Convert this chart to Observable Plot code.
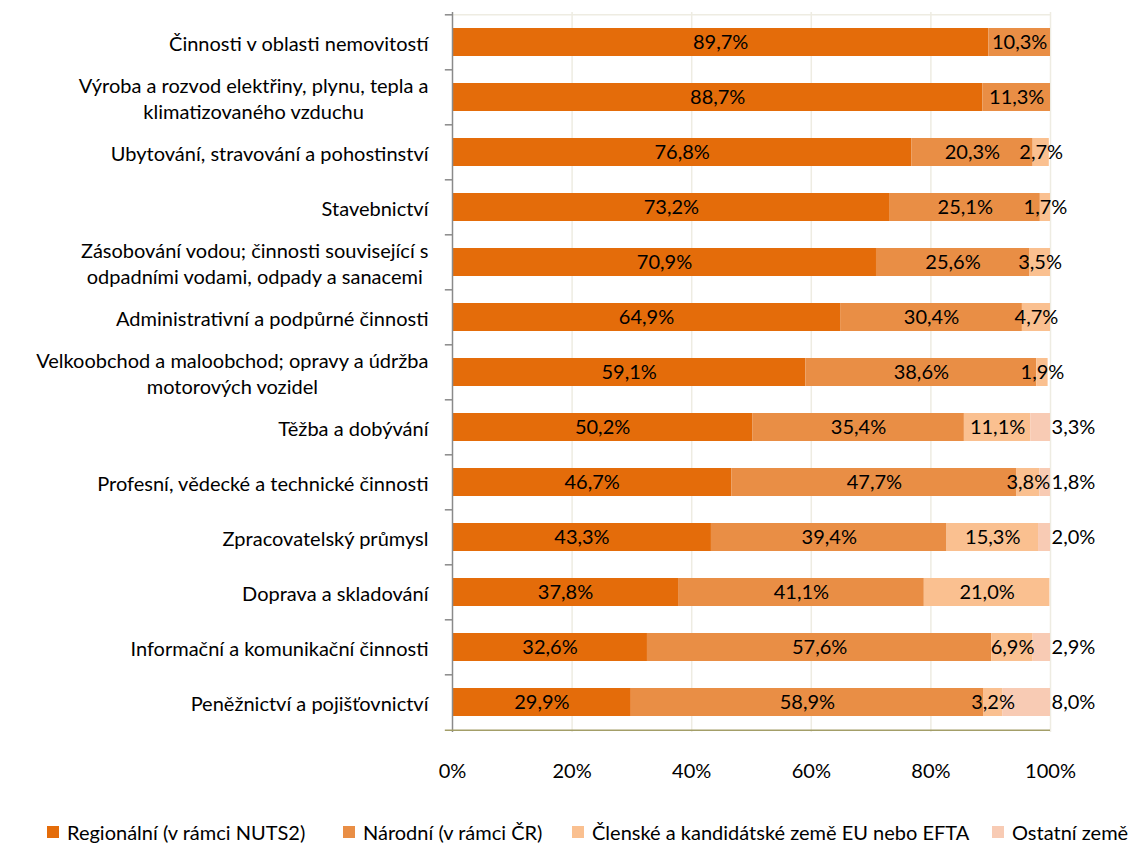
<!DOCTYPE html>
<html><head><meta charset="utf-8">
<script src="https://cdn.jsdelivr.net/npm/d3@7"></script>
<script src="https://cdn.jsdelivr.net/npm/@observablehq/plot@0.6"></script>
<style>
body{margin:0;background:#fff;font-family:Lato,sans-serif;}
#chart{position:relative;width:1135px;height:843px;overflow:hidden;background:#fff;}
#chart svg{display:block;}
.legend{position:absolute;top:815px;left:0;width:1135px;height:34px;}
.item{position:absolute;top:0;display:flex;align-items:center;height:34px;white-space:nowrap;font-size:20px;color:#000;}
.sw{width:12px;height:12px;margin-right:8px;flex:none;}
</style></head><body><div id="chart"></div>
<script>
const categories = [
  "Činnosti v oblasti nemovitostí",
  "Výroba a rozvod elektřiny, plynu, tepla a\nklimatizovaného vzduchu",
  "Ubytování, stravování a pohostinství",
  "Stavebnictví",
  "Zásobování vodou; činnosti související s\nodpadními vodami, odpady a sanacemi",
  "Administrativní a podpůrné činnosti",
  "Velkoobchod a maloobchod; opravy a údržba\nmotorových vozidel",
  "Těžba a dobývání",
  "Profesní, vědecké a technické činnosti",
  "Zpracovatelský průmysl",
  "Doprava a skladování",
  "Informační a komunikační činnosti",
  "Peněžnictví a pojišťovnictví"
];
const regional = [89.7, 88.7, 76.8, 73.2, 70.9, 64.9, 59.1, 50.2, 46.7, 43.3, 37.8, 32.6, 29.9];
const national = [10.3, 11.3, 20.3, 25.1, 25.6, 30.4, 38.6, 35.4, 47.7, 39.4, 41.1, 57.6, 58.9];
const euEfta   = [0, 0, 2.7, 1.7, 3.5, 4.7, 1.9, 11.1, 3.8, 15.3, 21.0, 6.9, 3.2];
const other    = [0, 0, 0, 0, 0, 0, 0, 3.3, 1.8, 2.0, 0, 2.9, 8.0];
const seriesNames = ["Regionální (v rámci NUTS2)", "Národní (v rámci ČR)", "Členské a kandidátské země EU nebo EFTA", "Ostatní země"];
const seriesColors = ["#E46C0A", "#E98E45", "#FAC090", "#F8CBB4"];
const xTicks = [0, 20, 40, 60, 80, 100];

const seriesValues = [regional, national, euEfta, other];
const rows = categories.flatMap((c, i) => seriesNames.map((s, k) => ({cat: c, series: s, value: seriesValues[k][i]})));
const fmt = v => v.toFixed(1).replace(".", ",") + "%";

const H = 800, MT = 12, MB = 68;
const step = (H - MT - MB) / categories.length;
const half = step / 2;
const last = seriesNames[3];

const plot = Plot.plot({
  width: 1135, height: H,
  marginLeft: 452, marginRight: 85, marginTop: MT, marginBottom: MB,
  style: {fontFamily: "Lato, sans-serif", fontSize: "20px", color: "#000", background: "#fff"},
  x: {domain: [0, 100]},
  y: {domain: categories, paddingInner: 0.5, paddingOuter: 0.25},
  color: {domain: seriesNames, range: seriesColors},
  marks: [
    Plot.gridX(xTicks.slice(1), {stroke: "#EEECE2", strokeOpacity: 1, strokeWidth: 1.5}),
    Plot.ruleY([categories[0]], {x1: 0, x2: 100, dy: -half, stroke: "#EEECE2", strokeWidth: 1.5}),
    Plot.barX(rows, Plot.stackX({x: "value", y: "cat", fill: "series"})),
    Plot.text(rows, Plot.stackX({x: "value", y: "cat", z: "series",
      text: d => d.value > 0 && d.series !== last ? fmt(d.value) : "", fill: "#000"})),
    Plot.text(rows, Plot.stackX2({x: "value", y: "cat", z: "series",
      text: d => d.value > 0 && d.series === last ? fmt(d.value) : "", dx: 23, fill: "#000"})),
    Plot.ruleX([0], {stroke: "#8A8A8A", strokeWidth: 1.5}),
    Plot.ruleY(categories, {x1: -1.2, x2: 0, dy: -half, stroke: "#8A8A8A", strokeWidth: 1.5}),
    Plot.ruleY([categories[categories.length - 1]], {x1: -1.2, x2: 100, dy: half, stroke: "#A39E68", strokeWidth: 1.5}),
    Plot.tickX(xTicks, {x: d => d, y: categories[categories.length - 1], dy: half + 3, stroke: "#A39E68", strokeWidth: 1.5}),
    Plot.axisX(xTicks, {tickSize: 0, tickPadding: 31, tickFormat: d => d + "%", label: null, fill: "#000"}),
    Plot.axisY({tickSize: 0, tickPadding: 24, label: null, lineHeight: 1.3, fill: "#000"})
  ]
});

const chart = document.getElementById("chart");
chart.appendChild(plot);

// center the lines of multi-line category labels relative to each other
plot.querySelectorAll('g[aria-label="y-axis tick label"] text').forEach(t => {
  const spans = t.querySelectorAll("tspan");
  if (spans.length > 1) {
    const lens = Array.from(spans, s => s.getComputedTextLength());
    const mx = Math.max(...lens);
    spans.forEach((s, i) => s.setAttribute("x", -(mx - lens[i]) / 2));
  }
});

// legend
const legendX = [47, 343, 572, 992];
const legend = document.createElement("div");
legend.className = "legend";
seriesNames.forEach((n, i) => {
  const it = document.createElement("div");
  it.className = "item";
  it.style.left = legendX[i] + "px";
  const sw = document.createElement("span");
  sw.className = "sw";
  sw.style.background = seriesColors[i];
  const tx = document.createElement("span");
  tx.textContent = n;
  it.appendChild(sw); it.appendChild(tx);
  legend.appendChild(it);
});
chart.appendChild(legend);
</script>
</body></html>
